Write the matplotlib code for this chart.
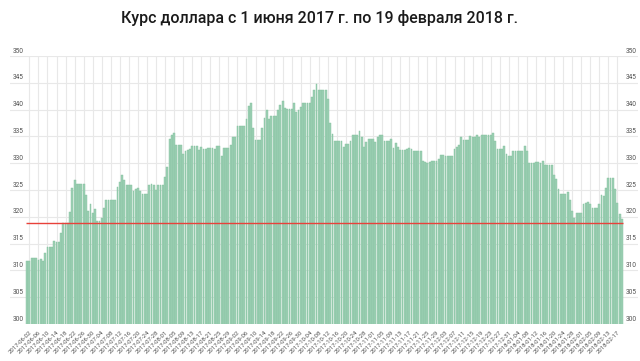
import matplotlib.pyplot as plt
import matplotlib.transforms as mtransforms
import pandas as pd

plt.rcParams['font.family'] = ['Roboto', 'DejaVu Sans']

title = "Курс доллара с 1 июня 2017 г. по 19 февраля 2018 г."
start_date = "2017-06-01"
end_date = "2018-02-19"
ref_level = 318.9

rates = [
    311.7, 311.7, 312.3, 312.3, 312.3, 312.0, 312.2, 311.8, 313.3, 314.3,
    314.3, 314.3, 315.5, 315.3, 315.3, 316.9, 318.9, 318.9, 318.9, 320.9,
    325.4, 326.9, 326.1, 326.1, 326.1, 326.1, 324.1, 321.1, 322.4, 320.8,
    321.5, 319.3, 319.3, 319.7, 321.6, 323.2, 323.2, 323.2, 323.2, 323.2,
    325.6, 326.5, 327.8, 326.9, 325.9, 325.9, 325.9, 324.9, 325.1, 325.3,
    324.9, 324.2, 324.2, 324.2, 325.9, 326.2, 325.9, 325.0, 326.0, 326.0,
    326.0, 327.5, 329.3, 334.6, 335.2, 335.7, 333.4, 333.4, 333.4, 331.8,
    332.3, 332.5, 332.7, 333.2, 333.2, 333.2, 332.5, 333.0, 332.7, 332.7,
    332.8, 332.8, 332.8, 332.6, 333.3, 333.3, 331.3, 332.9, 332.9, 332.9,
    333.4, 334.8, 334.8, 337.0, 337.0, 337.0, 337.0, 338.3, 340.6, 341.2,
    336.5, 334.3, 334.3, 334.3, 336.5, 338.4, 340.0, 338.2, 338.8, 338.8,
    338.8, 339.9, 340.9, 341.6, 340.3, 340.1, 340.1, 340.1, 341.2, 339.6,
    340.0, 340.4, 341.2, 341.2, 341.2, 341.2, 342.3, 343.6, 344.7, 343.6,
    343.6, 343.6, 343.6, 342.0, 337.5, 335.5, 334.2, 334.2, 334.2, 334.2,
    333.1, 333.6, 333.6, 334.1, 335.2, 335.2, 335.2, 336.1, 334.9, 333.0,
    333.9, 334.5, 334.5, 334.5, 334.0, 334.8, 335.2, 335.2, 334.1, 334.1,
    334.1, 334.5, 332.8, 333.7, 333.0, 332.5, 332.5, 332.5, 332.6, 332.9,
    332.6, 332.3, 332.2, 332.2, 332.2, 330.5, 330.2, 330.1, 330.3, 330.4,
    330.4, 330.4, 330.8, 331.5, 331.6, 331.3, 331.3, 331.3, 331.3, 332.6,
    333.0, 333.4, 334.8, 334.3, 334.3, 334.3, 335.1, 334.9, 334.8, 335.2,
    334.9, 335.3, 335.3, 335.3, 335.3, 335.3, 335.6, 334.1, 332.6, 332.6,
    332.6, 333.2, 331.8, 331.3, 331.3, 332.3, 332.3, 332.3, 332.3, 332.3,
    333.2, 332.3, 330.1, 330.1, 330.1, 330.3, 330.2, 330.1, 330.5, 329.6,
    329.6, 329.6, 329.6, 327.8, 327.0, 325.1, 324.2, 324.2, 324.2, 324.6,
    323.1, 321.0, 319.8, 320.7, 320.7, 320.7, 322.3, 322.5, 322.8, 322.4,
    321.6, 321.6, 321.6, 322.4, 324.0, 323.9, 325.4, 327.3, 327.3, 327.3,
    325.1, 322.5, 320.5, 319.6,
]

dates = pd.date_range(start_date, end_date, freq="D")
day_labels = [d.strftime("%Y-%m-%d") for d in dates]
y_ticks = list(range(300, 351, 5))

W, H = 640, 361
fig = plt.figure(figsize=(6.4, 3.61), dpi=100)
ax = fig.add_axes([10 / W, 1 - 324 / H, 628 / W, 268 / H])

x = list(range(len(rates)))
ax.bar(x, rates, width=0.8, color="#9ed0b4", edgecolor="#80c09c",
       linewidth=0.3, zorder=2)
ax.hlines(ref_level, -0.5, len(rates) - 0.3, color="#e8413a", lw=1.0, zorder=3)

px_per_bar = (623 - 26) / len(rates)
ax.set_xlim(-0.5 - 16 / px_per_bar, len(rates) - 0.5 + 15 / px_per_bar)
ax.set_ylim(300, 350)

# vertical grid every 4 days, horizontal every 5
tick_pos = x[1::4]
for p in tick_pos:
    ax.axvline(p, color="#e8e8e8", lw=0.8, zorder=0)
for v in y_ticks:
    ax.axhline(v, color="#e8e8e8", lw=0.8, zorder=0)

ax.set_xticks(tick_pos)
ax.set_xticklabels([day_labels[i] for i in tick_pos], rotation=45,
                   ha="right", va="top", rotation_mode="anchor",
                   fontsize=4.3, color="#505050")
ax.tick_params(axis="x", length=0, pad=4)
ax.set_yticks([])

# y labels sit just above the grid lines, on both sides
blend = mtransforms.blended_transform_factory(fig.transFigure, ax.transData)
for v in y_ticks:
    ax.text(12.5 / W, v + 0.25, str(v), transform=blend, ha="left",
            va="bottom", fontsize=4.7, color="#505050")
    ax.text(637 / W, v + 0.25, str(v), transform=blend, ha="right",
            va="bottom", fontsize=4.7, color="#505050")

for s in ax.spines.values():
    s.set_visible(False)

fig.text(0.5, 1 - 18 / H, title, ha="center", va="center",
         fontsize=11.5, fontweight="medium", color="#1a1a1a")

fig.savefig("out.png", dpi=100)
